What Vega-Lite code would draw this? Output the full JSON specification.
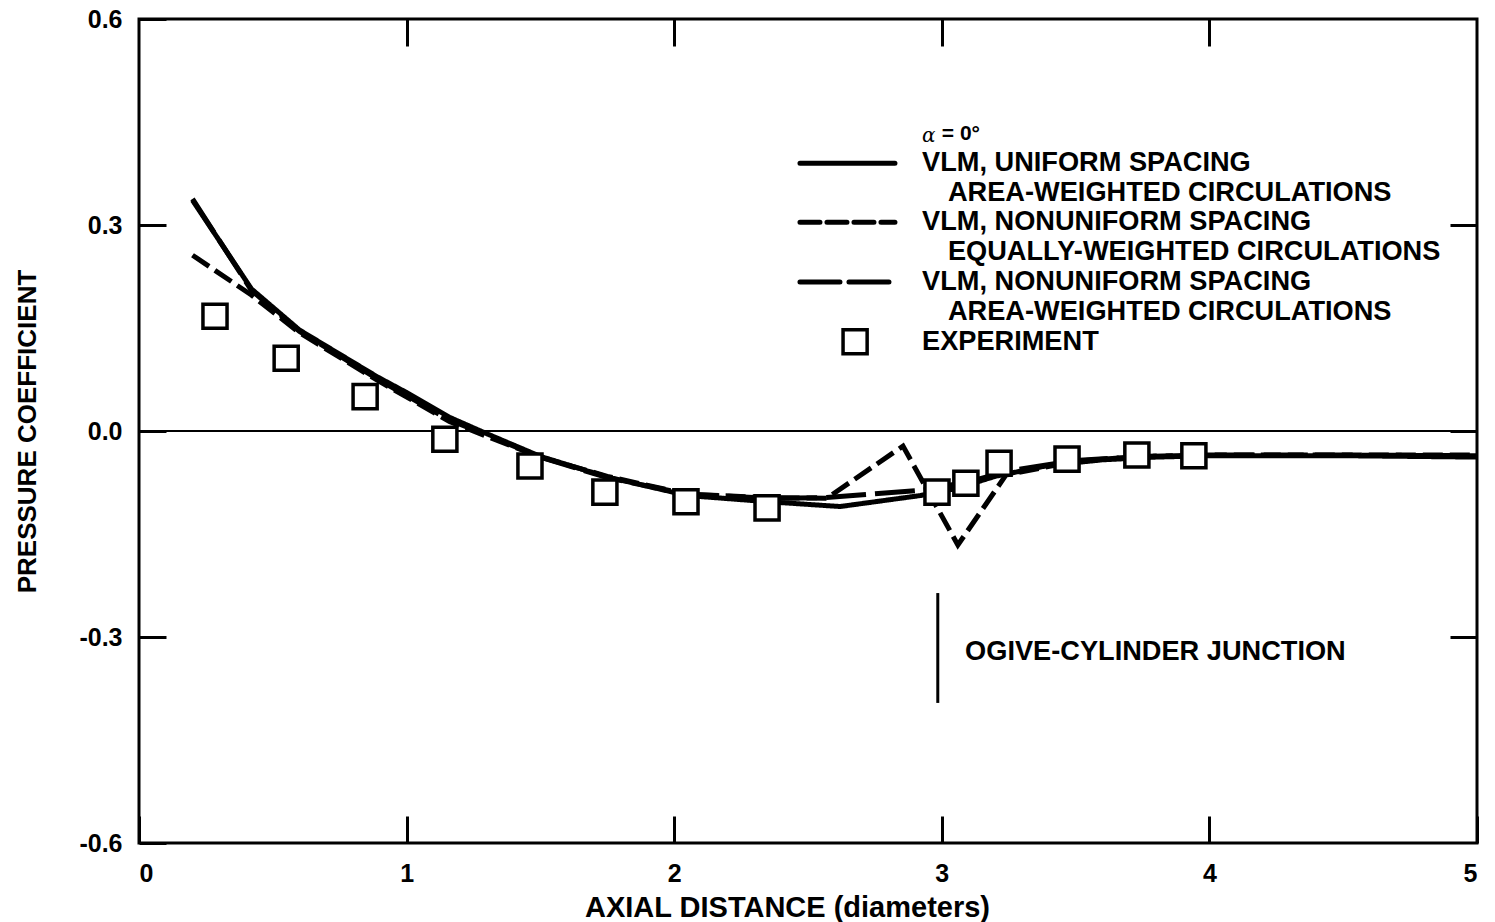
{
  "$schema": "https://vega.github.io/schema/vega-lite/v6.json",
  "width": 1338,
  "height": 824,
  "autosize": {"type": "none"},
  "padding": {"left": 139, "top": 19, "right": 18, "bottom": 79},
  "background": "white",
  "config": {
    "view": {"stroke": "black", "strokeWidth": 3},
    "font": "Liberation Sans",
    "axis": {
      "grid": false,
      "domain": false,
      "ticks": true,
      "tickColor": "black",
      "tickWidth": 3,
      "tickSize": -27,
      "labelFont": "Liberation Sans",
      "labelFontWeight": "bold",
      "labelFontSize": 25,
      "labelColor": "black",
      "titleFont": "Liberation Sans",
      "titleFontWeight": "bold",
      "titleFontSize": 26,
      "titleColor": "black"
    }
  },
  "datasets": {
    "curves": [
      {"series": "uniform_area", "x": 0.2, "cp": 0.336},
      {"series": "uniform_area", "x": 0.42, "cp": 0.207},
      {"series": "uniform_area", "x": 0.6, "cp": 0.147},
      {"series": "uniform_area", "x": 0.89, "cp": 0.079},
      {"series": "uniform_area", "x": 1.0, "cp": 0.056},
      {"series": "uniform_area", "x": 1.16, "cp": 0.02},
      {"series": "uniform_area", "x": 1.3, "cp": -0.004},
      {"series": "uniform_area", "x": 1.5, "cp": -0.037},
      {"series": "uniform_area", "x": 1.75, "cp": -0.067},
      {"series": "uniform_area", "x": 2.05, "cp": -0.094},
      {"series": "uniform_area", "x": 2.35, "cp": -0.103},
      {"series": "uniform_area", "x": 2.62, "cp": -0.11},
      {"series": "uniform_area", "x": 2.92, "cp": -0.094},
      {"series": "uniform_area", "x": 3.05, "cp": -0.084},
      {"series": "uniform_area", "x": 3.2, "cp": -0.066},
      {"series": "uniform_area", "x": 3.4, "cp": -0.05},
      {"series": "uniform_area", "x": 3.6, "cp": -0.042},
      {"series": "uniform_area", "x": 3.8, "cp": -0.038},
      {"series": "uniform_area", "x": 4.0, "cp": -0.036},
      {"series": "uniform_area", "x": 4.5, "cp": -0.036},
      {"series": "uniform_area", "x": 5.0, "cp": -0.038},

      {"series": "nonuniform_equal", "x": 0.2, "cp": 0.256},
      {"series": "nonuniform_equal", "x": 0.42, "cp": 0.198},
      {"series": "nonuniform_equal", "x": 0.6, "cp": 0.143},
      {"series": "nonuniform_equal", "x": 0.89, "cp": 0.074},
      {"series": "nonuniform_equal", "x": 1.16, "cp": 0.014},
      {"series": "nonuniform_equal", "x": 1.3, "cp": -0.008},
      {"series": "nonuniform_equal", "x": 1.5, "cp": -0.038},
      {"series": "nonuniform_equal", "x": 1.75, "cp": -0.066},
      {"series": "nonuniform_equal", "x": 2.05, "cp": -0.092},
      {"series": "nonuniform_equal", "x": 2.35, "cp": -0.097},
      {"series": "nonuniform_equal", "x": 2.57, "cp": -0.098},
      {"series": "nonuniform_equal", "x": 2.855, "cp": -0.022},
      {"series": "nonuniform_equal", "x": 3.06, "cp": -0.166},
      {"series": "nonuniform_equal", "x": 3.24, "cp": -0.064},
      {"series": "nonuniform_equal", "x": 3.5, "cp": -0.044},
      {"series": "nonuniform_equal", "x": 3.75, "cp": -0.037},
      {"series": "nonuniform_equal", "x": 4.0, "cp": -0.035},
      {"series": "nonuniform_equal", "x": 4.5, "cp": -0.035},
      {"series": "nonuniform_equal", "x": 5.0, "cp": -0.035},

      {"series": "nonuniform_area", "x": 0.2, "cp": 0.338},
      {"series": "nonuniform_area", "x": 0.42, "cp": 0.205},
      {"series": "nonuniform_area", "x": 0.6, "cp": 0.145},
      {"series": "nonuniform_area", "x": 0.89, "cp": 0.076},
      {"series": "nonuniform_area", "x": 1.16, "cp": 0.016},
      {"series": "nonuniform_area", "x": 1.3, "cp": -0.006},
      {"series": "nonuniform_area", "x": 1.5, "cp": -0.038},
      {"series": "nonuniform_area", "x": 1.75, "cp": -0.068},
      {"series": "nonuniform_area", "x": 2.05, "cp": -0.092},
      {"series": "nonuniform_area", "x": 2.35, "cp": -0.098},
      {"series": "nonuniform_area", "x": 2.57, "cp": -0.097},
      {"series": "nonuniform_area", "x": 2.93, "cp": -0.086},
      {"series": "nonuniform_area", "x": 3.1, "cp": -0.074},
      {"series": "nonuniform_area", "x": 3.25, "cp": -0.058},
      {"series": "nonuniform_area", "x": 3.5, "cp": -0.043},
      {"series": "nonuniform_area", "x": 3.75, "cp": -0.037},
      {"series": "nonuniform_area", "x": 4.0, "cp": -0.035},
      {"series": "nonuniform_area", "x": 4.5, "cp": -0.035},
      {"series": "nonuniform_area", "x": 5.0, "cp": -0.036}
    ],
    "experiment": [
      {"x": 0.284, "cp": 0.167},
      {"x": 0.55, "cp": 0.106},
      {"x": 0.845, "cp": 0.05},
      {"x": 1.143, "cp": -0.012},
      {"x": 1.461, "cp": -0.051},
      {"x": 1.741, "cp": -0.089},
      {"x": 2.044, "cp": -0.103},
      {"x": 2.347, "cp": -0.112},
      {"x": 2.982, "cp": -0.089},
      {"x": 3.09, "cp": -0.076},
      {"x": 3.214, "cp": -0.047},
      {"x": 3.468, "cp": -0.041},
      {"x": 3.729, "cp": -0.035},
      {"x": 3.942, "cp": -0.036}
    ],
    "key_lines": [
      {"series": "uniform_area", "x": 2.47, "cp": 0.39},
      {"series": "uniform_area", "x": 2.825, "cp": 0.39},
      {"series": "nonuniform_equal", "x": 2.47, "cp": 0.304},
      {"series": "nonuniform_equal", "x": 2.825, "cp": 0.304},
      {"series": "nonuniform_area", "x": 2.47, "cp": 0.217},
      {"series": "nonuniform_area", "x": 2.825, "cp": 0.217}
    ],
    "key_text": [
      {"x": 2.926, "cp": 0.39, "label": "VLM, UNIFORM SPACING"},
      {"x": 3.023, "cp": 0.347, "label": "AREA-WEIGHTED CIRCULATIONS"},
      {"x": 2.926, "cp": 0.304, "label": "VLM, NONUNIFORM SPACING"},
      {"x": 3.023, "cp": 0.261, "label": "EQUALLY-WEIGHTED CIRCULATIONS"},
      {"x": 2.926, "cp": 0.217, "label": "VLM, NONUNIFORM SPACING"},
      {"x": 3.023, "cp": 0.173, "label": "AREA-WEIGHTED CIRCULATIONS"},
      {"x": 2.926, "cp": 0.13, "label": "EXPERIMENT"},
      {"x": 3.087, "cp": -0.322, "label": "OGIVE-CYLINDER JUNCTION"}
    ],
    "single": [{}]
  },
  "layer": [
    {
      "data": {"name": "single"},
      "mark": {"type": "rule", "color": "black", "strokeWidth": 2},
      "encoding": {
        "y": {"datum": 0, "type": "quantitative", "scale": {"domain": [-0.6, 0.6], "nice": false}, "axis": null}
      }
    },
    {
      "data": {"name": "curves"},
      "mark": {"type": "line", "color": "black", "strokeWidth": 5, "strokeCap": "butt"},
      "encoding": {
        "x": {
          "field": "x", "type": "quantitative",
          "scale": {"domain": [0, 5], "nice": false},
          "axis": {"orient": "top", "labels": false, "values": [1, 2, 3, 4], "title": null}
        },
        "y": {
          "field": "cp", "type": "quantitative",
          "scale": {"domain": [-0.6, 0.6], "nice": false},
          "axis": {"orient": "right", "labels": false, "values": [-0.3, 0, 0.3], "title": null}
        },
        "strokeDash": {
          "field": "series", "type": "nominal",
          "scale": {"domain": ["uniform_area", "nonuniform_equal", "nonuniform_area"], "range": [[1, 0], [20, 7], [40, 9]]},
          "legend": null
        }
      }
    },
    {
      "data": {"name": "key_lines"},
      "mark": {"type": "line", "color": "black", "strokeWidth": 5, "strokeCap": "round"},
      "encoding": {
        "x": {"field": "x", "type": "quantitative", "axis": null},
        "y": {"field": "cp", "type": "quantitative", "axis": null},
        "strokeDash": {
          "field": "series", "type": "nominal",
          "scale": {"domain": ["uniform_area", "nonuniform_equal", "nonuniform_area"], "range": [[1, 0], [20, 7], [40, 9]]},
          "legend": null
        }
      }
    },
    {
      "data": {"name": "experiment"},
      "mark": {"type": "point", "shape": "square", "size": 580, "filled": false, "fill": "white", "fillOpacity": 1, "stroke": "black", "strokeWidth": 3.5, "opacity": 1},
      "encoding": {
        "x": {
          "field": "x", "type": "quantitative",
          "scale": {"domain": [0, 5], "nice": false},
          "axis": {
            "orient": "bottom", "values": [0, 1, 2, 3, 4, 5], "format": "d",
            "labelPadding": 45, "labelBaseline": "top",
            "title": "AXIAL DISTANCE (diameters)", "titleFontSize": 29,
            "titleX": 648, "titleY": 64, "titleAlign": "center", "titleBaseline": "middle"
          }
        },
        "y": {
          "field": "cp", "type": "quantitative",
          "scale": {"domain": [-0.6, 0.6], "nice": false},
          "axis": {
            "orient": "left", "values": [-0.6, -0.3, 0, 0.3, 0.6],
            "labelExpr": "(datum.value < 0 ? '-' : '') + format(abs(datum.value), '.1f')",
            "labelPadding": 44,
            "title": "PRESSURE COEFFICIENT",
            "titleX": -112, "titleY": 412, "titleAngle": -90, "titleAlign": "center", "titleBaseline": "middle"
          }
        }
      }
    },
    {
      "data": {"name": "single"},
      "mark": {"type": "point", "shape": "square", "size": 580, "filled": false, "fill": "white", "fillOpacity": 1, "stroke": "black", "strokeWidth": 3.5, "opacity": 1},
      "encoding": {
        "x": {"datum": 2.676, "type": "quantitative", "axis": null},
        "y": {"datum": 0.13, "type": "quantitative", "axis": null}
      }
    },
    {
      "data": {"name": "single"},
      "mark": {"type": "rule", "color": "black", "strokeWidth": 3},
      "encoding": {
        "x": {"datum": 2.985, "type": "quantitative", "axis": null},
        "y": {"datum": -0.236, "type": "quantitative", "axis": null},
        "y2": {"datum": -0.396}
      }
    },
    {
      "data": {"name": "key_text"},
      "mark": {"type": "text", "align": "left", "baseline": "middle", "font": "Liberation Sans", "fontWeight": "bold", "fontSize": 27.2, "color": "black"},
      "encoding": {
        "x": {"field": "x", "type": "quantitative", "axis": null},
        "y": {"field": "cp", "type": "quantitative", "axis": null},
        "text": {"field": "label"}
      }
    },
    {
      "data": {"name": "single"},
      "mark": {"type": "text", "align": "left", "baseline": "middle", "font": "DejaVu Serif", "fontStyle": "italic", "fontSize": 20, "color": "black"},
      "encoding": {
        "x": {"datum": 2.926, "type": "quantitative", "axis": null},
        "y": {"datum": 0.43, "type": "quantitative", "axis": null},
        "text": {"value": "α"}
      }
    },
    {
      "data": {"name": "single"},
      "mark": {"type": "text", "align": "left", "baseline": "middle", "font": "Liberation Sans", "fontWeight": "bold", "fontSize": 21, "color": "black"},
      "encoding": {
        "x": {"datum": 3.0, "type": "quantitative", "axis": null},
        "y": {"datum": 0.433, "type": "quantitative", "axis": null},
        "text": {"value": "= 0°"}
      }
    }
  ],
  "resolve": {"axis": {"x": "independent", "y": "independent"}}
}
